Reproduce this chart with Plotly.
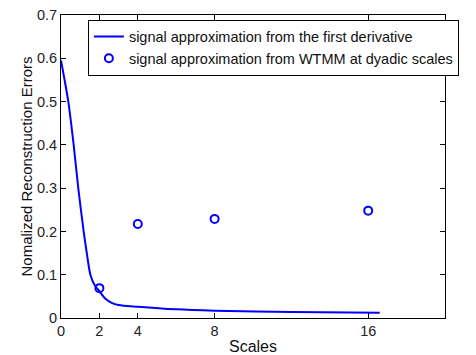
import plotly.graph_objects as go

# Reconstruction error of the first-derivative approximation, sampled along the scale axis
deriv_scales = [0, 0.38, 0.66, 0.90, 1.18, 1.35, 1.53, 1.75, 2.0, 2.3, 2.64, 3.0, 4.0, 6.0, 8.0, 12.0, 16.6]
deriv_errors = [0.595, 0.5, 0.4, 0.3, 0.2, 0.148, 0.1, 0.076, 0.062, 0.045, 0.035, 0.03, 0.026, 0.02, 0.017, 0.014, 0.012]

# Reconstruction error from WTMM at dyadic scales
dyadic_scales = [2, 4, 8, 16]
dyadic_errors = [0.069, 0.217, 0.229, 0.248]

x_ticks = [0, 2, 4, 8, 16]
y_ticks = [0, 0.1, 0.2, 0.3, 0.4, 0.5, 0.6, 0.7]
y_tick_text = ["0", "0.1", "0.2", "0.3", "0.4", "0.5", "0.6", "0.7"]

blue = "#0000ff"
font = "Liberation Sans, Arial, sans-serif"

fig = go.Figure()
fig.add_trace(go.Scatter(
    x=deriv_scales, y=deriv_errors, mode="lines",
    line=dict(color=blue, width=2, shape="spline", smoothing=0.8),
    name="signal approximation from the first derivative",
    legendgroup="a",
))
fig.add_trace(go.Scatter(
    x=dyadic_scales, y=dyadic_errors, mode="markers",
    marker=dict(symbol="circle-open", size=8, color=blue, line=dict(width=2, color=blue)),
    name="signal approximation from WTMM at dyadic scales",
    legendgroup="b",
))

axis_common = dict(
    showline=True, linecolor="black", linewidth=1, mirror="ticks",
    ticks="inside", ticklen=5, tickcolor="black", showgrid=False, zeroline=False,
    automargin=False,
    tickfont=dict(family=font, size=14.5, color="#222"),
)

fig.update_layout(
    width=476, height=355,
    margin=dict(l=61, r=31, t=15, b=37),
    paper_bgcolor="white", plot_bgcolor="white",
    font=dict(family=font, size=14.5, color="#111"),
    xaxis=dict(range=[0, 20], tickvals=x_ticks, ticktext=[str(v) for v in x_ticks],
               title=dict(text="Scales", font=dict(size=16), standoff=2), **axis_common),
    yaxis=dict(range=[0, 0.7], tickvals=y_ticks, ticktext=y_tick_text,
               title=dict(text="Nomalized Reconstruction Errors", font=dict(size=15), standoff=0),
               **axis_common),
    showlegend=True,
    legend=dict(
        x=0.07, y=0.985, xanchor="left", yanchor="top",
        bgcolor="white", bordercolor="black", borderwidth=1,
        font=dict(family=font, size=14.5, color="#111"),
        traceorder="grouped", tracegroupgap=0,
    ),
)

fig.write_html("out.html")
